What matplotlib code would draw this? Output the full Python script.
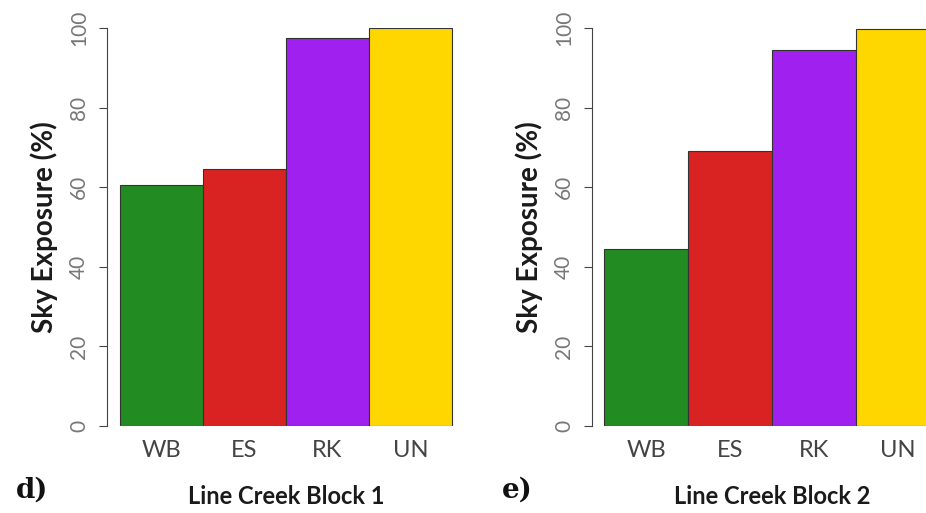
import matplotlib.pyplot as plt

# Sky exposure per cover type
categories = ['WB', 'ES', 'RK', 'UN']
block1 = [60.6, 64.6, 97.4, 100.0]
block2 = [44.5, 69.1, 94.5, 99.7]
colors = ['#228b22', '#d92323', '#a020f0', '#ffd700']
titles = ['Line Creek Block 1', 'Line Creek Block 2']
panel_tags = ['d)', 'e)']
yticks = [0, 20, 40, 60, 80, 100]

W, H = 926, 513
fig = plt.figure(figsize=(W / 100, H / 100), dpi=100)


def px_axes(x0, x1, y_top, y_bot):
    return fig.add_axes([x0 / W, 1 - y_bot / H, (x1 - x0) / W, (y_bot - y_top) / H])


# axes positions in pixels: (axis line x, bar start x, px per bar)
layout = [(107, 120, 83), (592, 604, 84)]

for i, (vals, title, tag) in enumerate(zip([block1, block2], titles, panel_tags)):
    ax_x, bar_x, unit = layout[i]
    right = bar_x + 4 * unit + 10
    ax = px_axes(ax_x, right, 28, 426)
    xs = list(range(len(categories)))
    ax.bar(xs, vals, width=1, align='edge', color=colors,
           edgecolor='#333333', linewidth=0.8)
    ax.set_xlim(-(bar_x - ax_x) / unit, (right - bar_x) / unit)
    ax.set_ylim(0, 100)
    ax.set_yticks(yticks)
    ax.set_yticklabels([str(t) for t in yticks], rotation=90, va='center',
                       fontsize=15, color='#777777', family='Lato')
    ax.tick_params(axis='y', length=6, width=0.8, color='#444444', pad=7)
    ax.set_xticks([x + 0.5 for x in xs])
    ax.set_xticklabels(categories, fontsize=17, color='#444444', family='Lato')
    ax.tick_params(axis='x', length=0, pad=10)
    for s in ['top', 'right', 'bottom']:
        ax.spines[s].set_visible(False)
    ax.spines['left'].set_bounds(0, 100)
    ax.spines['left'].set_color('#444444')
    ax.spines['left'].set_linewidth(0.8)
    ax.set_ylabel('Sky Exposure (%)', fontsize=20, fontweight='bold',
                  family='Lato', color='#1a1a1a', labelpad=8)
    ax.patch.set_alpha(0)

    cx = bar_x + 2 * unit
    fig.text(cx / W, 1 - 497 / H, title, ha='center', va='center',
             fontsize=17, fontweight='bold', family='Lato', color='#1a1a1a')
    fig.text((ax_x - 75) / W, 1 - 490 / H, tag, ha='center', va='center',
             fontsize=20, fontweight='bold', family='DejaVu Serif', color='#111111')

fig.savefig('out.png', dpi=100)
